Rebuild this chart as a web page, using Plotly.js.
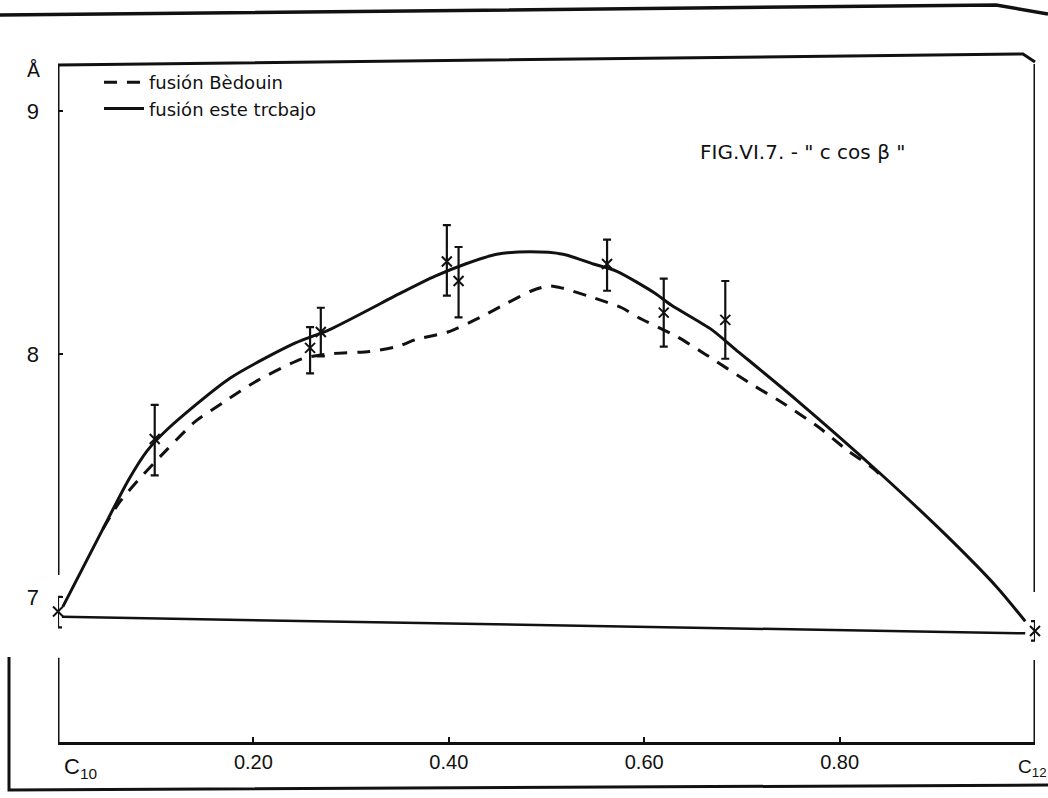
<!DOCTYPE html>
<html>
<head>
<meta charset="utf-8">
<script src="https://cdn.plot.ly/plotly-3.0.1.min.js"></script>
<style>html,body{margin:0;padding:0;background:#fff;}#chart{width:1048px;height:798px;}</style>
</head>
<body>
<div id="chart"></div>
<script>
// x = composition between C10 (0) and C12 (1)
const xTickVals = [0.2, 0.4, 0.6, 0.8];
const xTickText = ['0.20', '0.40', '0.60', '0.80'];
const yTickVals = [7, 8, 9];
const yTickText = ['7', '8', '9'];

// "fusión este trabajo" (solid curve)
const solidX = [0.005, 0.046, 0.072, 0.091, 0.112, 0.176, 0.243, 0.278, 0.353, 0.386, 0.417, 0.449, 0.483, 0.517, 0.548, 0.572, 0.611, 0.628, 0.669, 0.693, 0.756, 0.841, 0.91, 0.961, 0.99];
const solidY = [6.96, 7.28, 7.48, 7.60, 7.69, 7.90, 8.045, 8.10, 8.255, 8.32, 8.37, 8.41, 8.42, 8.41, 8.37, 8.34, 8.25, 8.20, 8.10, 8.02, 7.81, 7.51, 7.25, 7.04, 6.90];

// "fusión Bèdouin" (dashed curve)
const dashX = [0.046, 0.063, 0.082, 0.11, 0.14, 0.169, 0.204, 0.25, 0.278, 0.319, 0.347, 0.367, 0.399, 0.432, 0.46, 0.485, 0.503, 0.517, 0.545, 0.577, 0.594, 0.634, 0.662, 0.708, 0.741, 0.778, 0.809, 0.834, 0.845];
const dashY = [7.28, 7.39, 7.48, 7.60, 7.72, 7.80, 7.89, 7.98, 8.00, 8.01, 8.03, 8.06, 8.09, 8.15, 8.21, 8.26, 8.28, 8.27, 8.235, 8.19, 8.15, 8.07, 8.00, 7.88, 7.80, 7.70, 7.60, 7.53, 7.49];

// measured points with error bars
const ptX  = [0, 0.099, 0.258, 0.269, 0.398, 0.41, 0.562, 0.62, 0.683, 1.0];
const ptY  = [6.94, 7.65, 8.025, 8.09, 8.38, 8.30, 8.37, 8.17, 8.14, 6.86];
const ptHi = [7.00, 7.79, 8.11, 8.19, 8.53, 8.44, 8.47, 8.31, 8.30, 6.90];
const ptLo = [6.875, 7.50, 7.92, 7.99, 8.24, 8.15, 8.26, 8.03, 7.98, 6.82];

// straight reference line near 7 Å
const baseX = [0.004, 0.99];
const baseY = [6.918, 6.85];

const ink = '#111';
const FONT = 'Liberation Sans Narrow, Liberation Sans, Arial, sans-serif';
const LFONT = 'DejaVu Sans, Liberation Sans, sans-serif';

const traces = [
  {x: dashX, y: dashY, type: 'scatter', mode: 'lines', name: 'fusión Bèdouin',
   line: {color: ink, width: 3, dash: '13px,10px', shape: 'spline', smoothing: 0.7}},
  {x: solidX, y: solidY, type: 'scatter', mode: 'lines', name: 'fusión este trcbajo',
   line: {color: ink, width: 3, shape: 'spline', smoothing: 0.7}},
  {x: baseX, y: baseY, type: 'scatter', mode: 'lines', showlegend: false,
   line: {color: ink, width: 2.5}},
  {x: ptX, y: ptY, type: 'scatter', mode: 'markers', showlegend: false, cliponaxis: false,
   marker: {symbol: 'x-thin', size: 10, color: ink, line: {color: ink, width: 2}},
   error_y: {type: 'data', symmetric: false,
     array: ptHi.map((h, i) => h - ptY[i]),
     arrayminus: ptLo.map((l, i) => ptY[i] - l),
     color: ink, thickness: 2.2, width: 4}}
];

const px = v => (v - 58) / 977;      // pixel x -> paper x
const py = v => (742 - v) / 678;     // pixel y -> paper y

const lineStyle = {color: ink, width: 3};
const shapes = [
  // broken left axis
  {type: 'line', xref: 'x', yref: 'y', x0: 0, x1: 0, y0: 9.19, y1: 7.09, line: lineStyle},
  {type: 'line', xref: 'x', yref: 'y', x0: 0, x1: 0, y0: 6.75, y1: 6.403, line: lineStyle},
  // broken right axis
  {type: 'line', xref: 'x', yref: 'y', x0: 1, x1: 1, y0: 9.21, y1: 7.02, line: lineStyle},
  {type: 'line', xref: 'x', yref: 'y', x0: 1, x1: 1, y0: 6.74, y1: 6.403, line: lineStyle},
  // top frame
  {type: 'path', xref: 'paper', yref: 'paper',
   path: `M 0 ${py(65)} L ${px(1023)} ${py(54)} L 1 ${py(62)}`, line: lineStyle},
  // page border (scan)
  {type: 'path', xref: 'paper', yref: 'paper',
   path: `M ${px(0)} ${py(15)} L ${px(996)} ${py(5)} L ${px(1048)} ${py(14)}`, line: {color: ink, width: 3.5}},
  {type: 'path', xref: 'paper', yref: 'paper',
   path: `M ${px(9)} ${py(657)} L ${px(9)} ${py(790)} L ${px(1048)} ${py(785)}`, line: {color: ink, width: 3}}
];

const annotations = [
  {text: 'Å', xref: 'paper', yref: 'paper', x: px(33), y: py(70), xanchor: 'center', yanchor: 'middle',
   showarrow: false, font: {family: LFONT, size: 19, color: ink}},
  {text: 'FIG.VI.7. - " c cos β "', xref: 'paper', yref: 'paper', x: px(802), y: py(152),
   xanchor: 'center', yanchor: 'middle', showarrow: false,
   font: {family: LFONT, size: 20, color: ink}},
  {text: 'C<sub>10</sub>', xref: 'paper', yref: 'paper', x: px(80), y: py(768),
   xanchor: 'center', yanchor: 'middle', showarrow: false,
   font: {family: FONT, size: 22, color: ink}},
  {text: 'C<sub>12</sub>', xref: 'paper', yref: 'paper', x: px(1032), y: py(768),
   xanchor: 'center', yanchor: 'middle', showarrow: false,
   font: {family: FONT, size: 19, color: ink}}
];

const layout = {
  width: 1048, height: 798,
  margin: {l: 58, r: 13, t: 64, b: 56},
  paper_bgcolor: '#fff', plot_bgcolor: '#fff',
  showlegend: true,
  legend: {x: px(99), y: py(64), xanchor: 'left', yanchor: 'top', bgcolor: 'rgba(0,0,0,0)',
    font: {family: LFONT, size: 18, color: ink}, tracegroupgap: 0, itemwidth: 40},
  xaxis: {range: [0, 1], tickvals: xTickVals, ticktext: xTickText, ticks: 'inside', ticklen: 5,
    tickwidth: 2, tickcolor: ink, showline: true, linewidth: 3, linecolor: ink, mirror: false,
    showgrid: false, zeroline: false, tickfont: {family: FONT, size: 20, color: ink}},
  yaxis: {range: [6.403, 9.193], tickvals: yTickVals, ticktext: yTickText, ticks: 'inside', ticklen: 5,
    tickwidth: 2, tickcolor: ink, showline: false, showgrid: false, zeroline: false,
    ticklabelstandoff: 18, tickfont: {family: FONT, size: 22, color: ink}},
  shapes: shapes,
  annotations: annotations
};

Plotly.newPlot('chart', traces, layout, {displayModeBar: false, staticPlot: true});
</script>
</body>
</html>
